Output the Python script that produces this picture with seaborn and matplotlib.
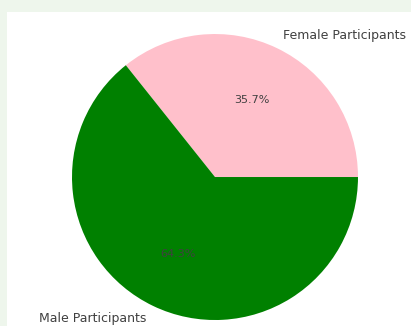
import matplotlib
matplotlib.use("Agg")
import matplotlib.pyplot as plt
import seaborn as sns
from matplotlib.patches import Rectangle

labels = ["Female Participants", "Male Participants"]
counts = [5, 9]
colors = ["pink", "green"]

sns.set_style("white")
plt.rcParams['font.family'] = ['DejaVu Sans']

fig = plt.figure(figsize=(4.11, 3.26), dpi=100)
fig.patch.set_facecolor('#eef6ec')

bg = fig.add_axes([7/411, 0, 1 - 7/411, 1 - 12/326], zorder=-1)
bg.set_axis_off()
bg.add_patch(Rectangle((0, 0), 1, 1, transform=bg.transAxes, facecolor='white', edgecolor='none'))

ax = fig.add_axes([0.0882, -0.0913, 0.8698, 1.0966], zorder=1)
ax.set_facecolor('none')
wedges, texts, autotexts = ax.pie(counts, labels=labels, colors=colors, autopct='%1.1f%%',
                                  wedgeprops={'linewidth': 0},
                                  textprops={'fontsize': 9, 'color': '.25'})
for t in autotexts:
    t.set_fontsize(8)
ax.set_aspect('equal')
fig.savefig("out.png", dpi=100, facecolor=fig.get_facecolor())
